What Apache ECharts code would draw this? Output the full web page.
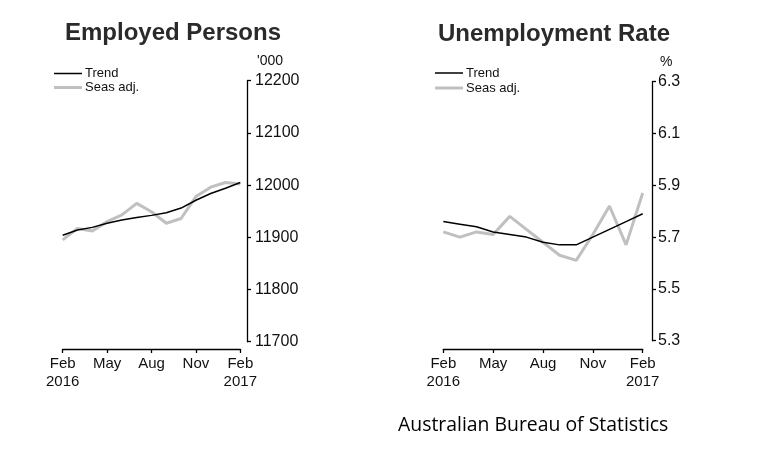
<!DOCTYPE html>
<html>
<head>
<meta charset="utf-8">
<script src="https://cdn.jsdelivr.net/npm/echarts@6/dist/echarts.min.js"></script>
<style>html,body{margin:0;padding:0;background:#fff}#c{width:770px;height:460px}</style>
</head>
<body>
<div id="c"></div>
<script>
const categories = ['Feb 2016','Mar 2016','Apr 2016','May 2016','Jun 2016','Jul 2016','Aug 2016','Sep 2016','Oct 2016','Nov 2016','Dec 2016','Jan 2017','Feb 2017'];
const tickLabels = ['Feb\n2016','May','Aug','Nov','Feb\n2017'];
const employedTrend = [11904,11914,11919,11927,11933,11938,11942,11947,11956,11971,11984,11994,12005];
const employedSeas = [11895,11917,11912,11930,11943,11965,11949,11927,11936,11978,11996,12005,12002];
const unempTrend = [5.76,5.75,5.74,5.72,5.71,5.70,5.68,5.67,5.67,5.70,5.73,5.76,5.79];
const unempSeas = [5.72,5.70,5.72,5.71,5.78,5.73,5.68,5.63,5.61,5.71,5.82,5.67,5.87];

const FONT = "'Liberation Sans', Arial, sans-serif";
const NARROW = "'Liberation Sans Narrow', 'Liberation Sans', Arial, sans-serif";
const chart = echarts.init(document.getElementById('c'));

function xAxis(gi, offset) {
  return {
    type: 'category', gridIndex: gi, data: categories, boundaryGap: false, offset: offset,
    axisLine: {lineStyle: {color: '#000', width: 1.3}},
    axisTick: {interval: 2, length: 4, lineStyle: {color: '#000', width: 1.3}},
    axisLabel: {interval: 2, color: '#111', fontFamily: NARROW, fontSize: 15, lineHeight: 18, margin: 6,
      formatter: (v, i) => tickLabels[i / 3]},
    splitLine: {show: false}
  };
}
function yAxis(gi, min, max, interval, offset, name, namePad, dec, margin) {
  return {
    type: 'value', gridIndex: gi, position: 'right', min: min, max: max, interval: interval, offset: offset,
    name: name, nameLocation: 'end', nameGap: 13,
    nameTextStyle: {align: 'left', padding: [0, 0, 0, namePad], color: '#111', fontFamily: NARROW, fontSize: 14},
    axisLine: {show: true, lineStyle: {color: '#000', width: 1.3}},
    axisTick: {show: true, inside: false, length: 4, lineStyle: {color: '#000', width: 1.3}},
    axisLabel: {color: '#111', fontFamily: FONT, fontSize: 16, margin: margin,
      formatter: v => Number(v).toFixed(dec)},
    splitLine: {show: false}
  };
}
function legend(left, top, name, h) {
  return {
    left: left, top: top, padding: 0, orient: 'vertical', itemWidth: 28, itemHeight: h, itemGap: 0,
    selectedMode: false, icon: 'rect', data: [name],
    textStyle: {color: '#111', fontFamily: NARROW, fontSize: 13, padding: [0, 0, 0, -2]}
  };
}
function line(name, gi, data, color, width) {
  return {name: name, type: 'line', xAxisIndex: gi, yAxisIndex: gi, data: data, symbol: 'none',
    lineStyle: {color: color, width: width}, itemStyle: {color: color}, z: name === 'Trend' ? 3 : 2};
}

chart.setOption({
  animation: false,
  backgroundColor: '#fff',
  title: [
    {text: 'Employed Persons', left: 173, top: 21, textAlign: 'center', padding: 0,
      textStyle: {fontFamily: FONT, fontSize: 24, fontWeight: 'bold', color: '#2a2a2a'}},
    {text: 'Unemployment Rate', left: 554, top: 22, textAlign: 'center', padding: 0,
      textStyle: {fontFamily: FONT, fontSize: 24, fontWeight: 'bold', color: '#2a2a2a'}},
    {text: 'Australian Bureau of Statistics', left: 398, top: 416, padding: 0,
      textStyle: {fontFamily: "'Open Sans', 'Liberation Sans', sans-serif", fontSize: 19.4, fontWeight: 'normal', color: '#000'}}
  ],
  legend: [
    legend(54, 67, 'Trend', 1.5),
    legend(54, 81, 'Seas adj.', 3),
    legend(435, 66.5, 'Trend', 1.5),
    legend(435, 81.5, 'Seas adj.', 3)
  ],
  grid: [
    {left: 62.7, top: 80.7, width: 177.6, height: 261},
    {left: 443.3, top: 81.7, width: 199.4, height: 259}
  ],
  xAxis: [xAxis(0, 7.3), xAxis(1, 8.3)],
  yAxis: [
    yAxis(0, 11700, 12200, 100, 6.7, "'000", 10, 0, 8),
    yAxis(1, 5.3, 6.3, 0.2, 9.3, '%', 8, 1, 6)
  ],
  series: [
    line('Seas adj.', 0, employedSeas, '#c0c0c0', 3),
    line('Trend', 0, employedTrend, '#000', 1.5),
    line('Seas adj.', 1, unempSeas, '#c0c0c0', 3),
    line('Trend', 1, unempTrend, '#000', 1.5)
  ]
});
</script>
</body>
</html>
